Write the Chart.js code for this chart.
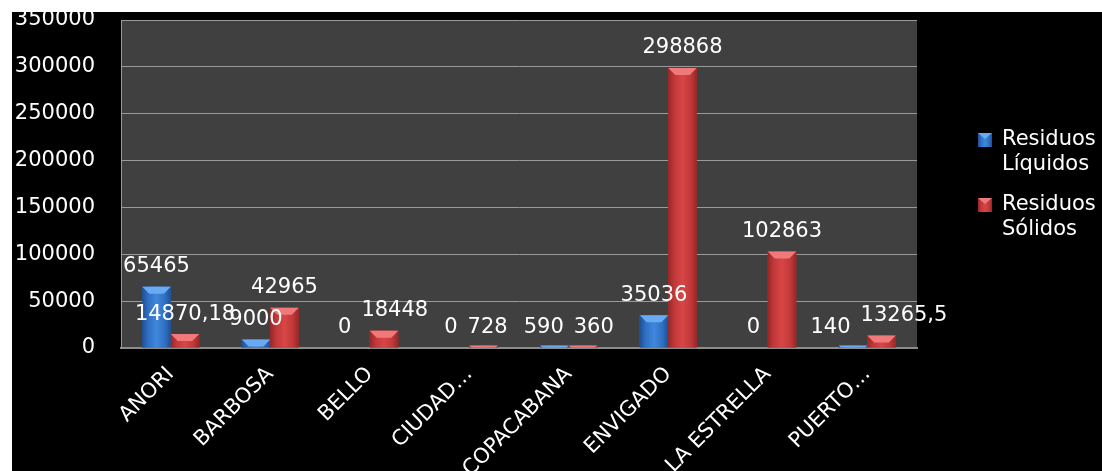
<!DOCTYPE html>
<html>
<head>
<meta charset="utf-8">
<title>Residuos por municipio</title>
<script src="https://cdn.jsdelivr.net/npm/chart.js@4.4.1/dist/chart.umd.min.js"></script>
<style>
  html, body { margin: 0; padding: 0; background: #fff; overflow: hidden; }
  #frame { position: absolute; left: 12px; top: 12px; right: 0; bottom: 0; background: #000; }
  #wrap { position: absolute; left: 0; top: 0; width: 1102px; height: 471px; }
</style>
</head>
<body>
<div id="frame"></div>
<div id="wrap"><canvas id="myChart"></canvas></div>
<script>
// data
const municipios = ['ANORI', 'BARBOSA', 'BELLO', 'CIUDAD…', 'COPACABANA', 'ENVIGADO', 'LA ESTRELLA', 'PUERTO…'];
const liquidos = [65465, 9000, 0, 0, 590, 35036, 0, 140];
const solidos = [14870.18, 42965, 18448, 728, 360, 298868, 102863, 13265.5];
const seriesNames = ['Residuos Líquidos', 'Residuos Sólidos'];
const yMax = 350000;
const yStep = 50000;

// bar look: dark edge, body, light centre, bevel top
const shades = [
    { edge: '#1f4f92', body: '#2e6fc2', light: '#3f88dc', top: '#6aaaf2' },
    { edge: '#962626', body: '#c03838', light: '#d84646', top: '#f07a7a' }
];

const font = '"DejaVu Sans", "Liberation Sans", sans-serif';
const fontSize = 21;

function fmt(v) {
    return String(v).replace('.', ',');
}

function barGradient(ctx, left, width, s) {
    const g = ctx.createLinearGradient(left, 0, left + width, 0);
    g.addColorStop(0, s.edge);
    g.addColorStop(0.2, s.body);
    g.addColorStop(0.5, s.light);
    g.addColorStop(0.8, s.body);
    g.addColorStop(1, s.edge);
    return g;
}

const plotBg = {
    id: 'plotBg',
    beforeDraw(chart) {
        const { ctx, chartArea: a } = chart;
        ctx.save();
        ctx.fillStyle = '#404040';
        ctx.fillRect(a.left, a.top, a.right - a.left, a.bottom - a.top);
        ctx.restore();
    }
};

// shading over the bars drawn by the library
const barShade = {
    id: 'barShade',
    afterDatasetsDraw(chart) {
        const ctx = chart.ctx;
        ctx.save();
        chart.data.datasets.forEach(function (ds, d) {
            const s = shades[d];
            chart.getDatasetMeta(d).data.forEach(function (el, i) {
                const p = el.getProps(['x', 'y', 'width', 'base'], true);
                let h = p.base - p.y;
                if (ds.data[i] <= 0) return;
                h = Math.max(h, 2);
                const top = p.base - h;
                const left = p.x - p.width / 2;
                ctx.fillStyle = barGradient(ctx, left, p.width, s);
                ctx.fillRect(left, top, p.width, h);
                const b = Math.min(7, h);
                ctx.fillStyle = s.top;
                ctx.beginPath();
                ctx.moveTo(left, top);
                ctx.lineTo(left + p.width, top);
                ctx.lineTo(left + p.width - b, top + b);
                ctx.lineTo(left + b, top + b);
                ctx.closePath();
                ctx.fill();
            });
        });
        ctx.restore();
    }
};

// value labels above the bars, pushed apart when they collide
const valueLabels = {
    id: 'valueLabels',
    afterDatasetsDraw(chart) {
        const ctx = chart.ctx;
        ctx.save();
        ctx.font = fontSize + 'px ' + font;
        ctx.fillStyle = '#ffffff';
        ctx.textAlign = 'center';
        ctx.textBaseline = 'middle';
        const m0 = chart.getDatasetMeta(0).data;
        const m1 = chart.getDatasetMeta(1).data;
        municipios.forEach(function (name, i) {
            const items = [
                { el: m0[i], text: fmt(liquidos[i]) },
                { el: m1[i], text: fmt(solidos[i]) }
            ].map(function (it) {
                const p = it.el.getProps(['x', 'y'], true);
                return { text: it.text, cx: p.x, cy: p.y - 20, w: ctx.measureText(it.text).width };
            });
            const a = items[0], b = items[1];
            const gap = 10;
            if (Math.abs(a.cy - b.cy) < 20) {
                const push = (a.cx + a.w / 2 + gap) - (b.cx - b.w / 2);
                if (push > 0) {
                    a.cx -= push / 2;
                    b.cx += push / 2;
                }
            }
            items.forEach(function (it) {
                ctx.fillText(it.text, it.cx, it.cy);
            });
        });
        ctx.restore();
    }
};

// two-line legend at the right
const sideLegend = {
    id: 'sideLegend',
    afterDraw(chart) {
        const ctx = chart.ctx;
        ctx.save();
        ctx.font = fontSize + 'px ' + font;
        ctx.textAlign = 'left';
        ctx.textBaseline = 'middle';
        chart.data.datasets.forEach(function (ds, k) {
            const y0 = 140 + k * 65;
            const s = shades[k];
            const mx = 978, my = y0 - 7, ms = 14;
            ctx.fillStyle = barGradient(ctx, mx, ms, s);
            ctx.fillRect(mx, my, ms, ms);
            ctx.fillStyle = s.top;
            ctx.beginPath();
            ctx.moveTo(mx, my);
            ctx.lineTo(mx + ms, my);
            ctx.lineTo(mx + ms / 2, my + 6);
            ctx.closePath();
            ctx.fill();
            ctx.fillStyle = '#ffffff';
            ds.label.split(' ').forEach(function (line, j) {
                ctx.fillText(line, 1002, y0 + j * 25);
            });
        });
        ctx.restore();
    }
};

const data = {
    labels: municipios,
    datasets: [
        {
            label: seriesNames[0],
            data: liquidos,
            backgroundColor: shades[0].body,
            borderWidth: 0
        },
        {
            label: seriesNames[1],
            data: solidos,
            backgroundColor: shades[1].body,
            borderWidth: 0
        }
    ]
};

const config = {
    type: 'bar',
    data: data,
    options: {
        responsive: true,
        maintainAspectRatio: false,
        animation: false,
        categoryPercentage: 0.573,
        barPercentage: 1,
        layout: { padding: { left: 12, top: 20, right: 185, bottom: 0 } },
        plugins: {
            legend: { display: false },
            tooltip: { enabled: false }
        },
        scales: {
            x: {
                grid: { display: false, drawTicks: false },
                border: { color: '#8c8c8c', width: 2 },
                ticks: {
                    color: '#ffffff',
                    font: { family: font, size: fontSize },
                    autoSkip: false,
                    maxRotation: 45,
                    minRotation: 45,
                    padding: 14
                },
                afterFit(scale) { scale.height = 123; }
            },
            y: {
                min: 0,
                max: yMax,
                grid: { color: '#9a9a9a', lineWidth: 1, drawTicks: false },
                border: { color: '#9a9a9a', width: 1 },
                ticks: {
                    stepSize: yStep,
                    color: '#ffffff',
                    font: { family: font, size: fontSize },
                    padding: 26,
                    callback: function (v) { return String(v); }
                },
                afterFit(scale) {
                    scale.width = 109;
                    scale.paddingTop = 0;
                    scale.paddingBottom = 0;
                }
            }
        }
    },
    plugins: [plotBg, barShade, valueLabels, sideLegend]
};

var ctx = document.getElementById('myChart').getContext('2d');
new Chart(ctx, config);
</script>
</body>
</html>
